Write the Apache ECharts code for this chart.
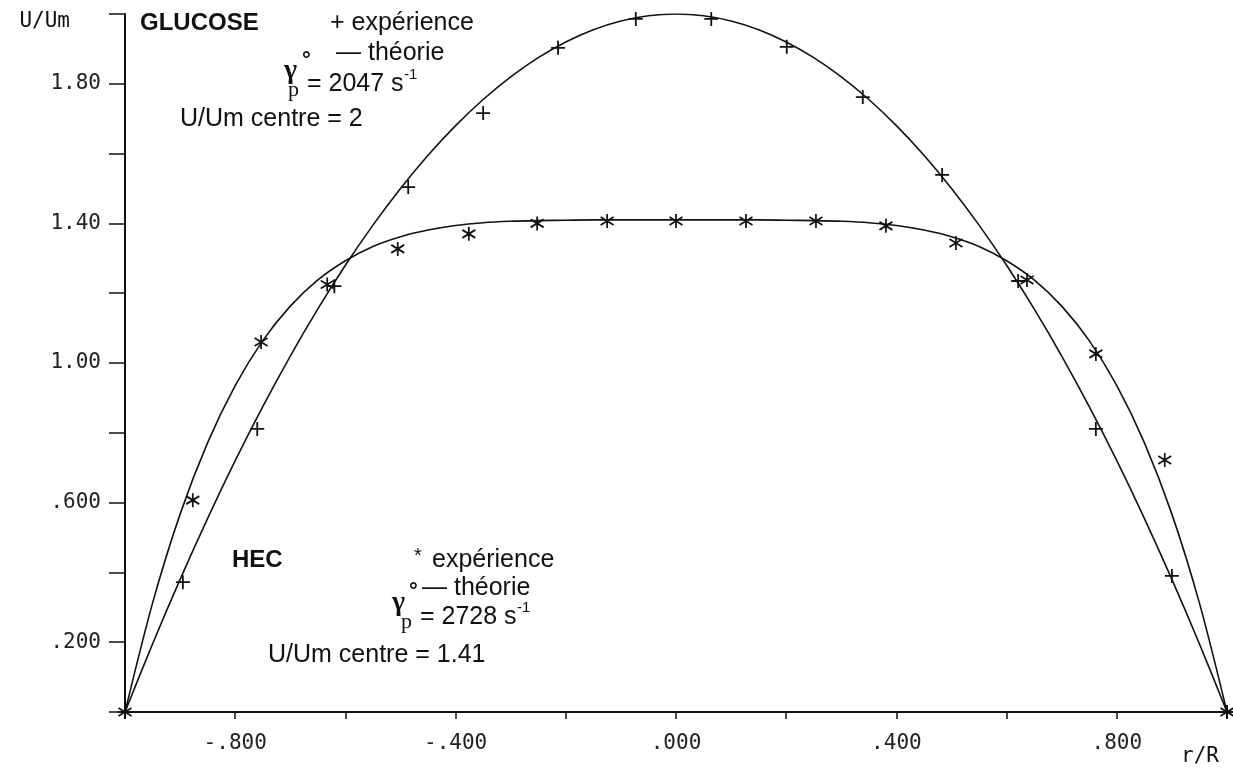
<!DOCTYPE html>
<html>
<head>
<meta charset="utf-8">
<script src="https://cdn.jsdelivr.net/npm/echarts@6/dist/echarts.min.js"></script>
<style>
  html, body { margin: 0; padding: 0; background: #fff; }
  #chart { width: 1233px; height: 772px; }
</style>
</head>
<body>
<div id="chart"></div>
<script>
// experimental points, glucose (+)
const glucoseExpX = [-1, -0.895, -0.76, -0.62, -0.486, -0.35, -0.214, -0.073, 0.064, 0.201, 0.339, 0.483, 0.621, 0.762, 0.900, 1];
const glucoseExpY = [0, 0.372, 0.811, 1.22, 1.504, 1.716, 1.903, 1.986, 1.986, 1.906, 1.762, 1.539, 1.235, 0.811, 0.390, 0];

// experimental points, HEC (*)
const hecExpX = [-1, -0.877, -0.753, -0.633, -0.505, -0.376, -0.252, -0.125, 0.0, 0.127, 0.254, 0.381, 0.508, 0.637, 0.762, 0.887, 1];
const hecExpY = [0, 0.607, 1.06, 1.225, 1.327, 1.370, 1.400, 1.407, 1.407, 1.407, 1.407, 1.393, 1.344, 1.238, 1.026, 0.722, 0];

// theory curves every 0.05 in r/R
const curveX = [-1, -0.95, -0.9, -0.85, -0.8, -0.75, -0.7, -0.65, -0.6, -0.55, -0.5, -0.45, -0.4, -0.35, -0.3, -0.25, -0.2, -0.15, -0.1, -0.05,
  0, 0.05, 0.1, 0.15, 0.2, 0.25, 0.3, 0.35, 0.4, 0.45, 0.5, 0.55, 0.6, 0.65, 0.7, 0.75, 0.8, 0.85, 0.9, 0.95, 1];
const glucoseTheoryY = [0, 0.195, 0.38, 0.555, 0.72, 0.875, 1.02, 1.155, 1.28, 1.395, 1.5, 1.595, 1.68, 1.755, 1.82, 1.875, 1.92, 1.955, 1.98, 1.995,
  2.0, 1.995, 1.98, 1.955, 1.92, 1.875, 1.82, 1.755, 1.68, 1.595, 1.5, 1.395, 1.28, 1.155, 1.02, 0.875, 0.72, 0.555, 0.38, 0.195, 0];
const hecTheoryY = [0, 0.312, 0.567, 0.772, 0.935, 1.064, 1.163, 1.238, 1.293, 1.334, 1.362, 1.381, 1.394, 1.402, 1.406, 1.408, 1.409, 1.41, 1.41, 1.41,
  1.41, 1.41, 1.41, 1.41, 1.409, 1.408, 1.406, 1.402, 1.394, 1.381, 1.362, 1.334, 1.293, 1.238, 1.163, 1.064, 0.935, 0.772, 0.567, 0.312, 0];

// tick labels
const xLabelValues = [-0.8, -0.4, 0, 0.4, 0.8];
const xLabelTexts = ['-.800', '-.400', '.000', '.400', '.800'];
const yLabelValues = [0.2, 0.6, 1.0, 1.4, 1.8];
const yLabelTexts = ['.200', '.600', '1.00', '1.40', '1.80'];

const ink = '#111';
const mono = 'DejaVu Sans Mono';
const sans = 'Liberation Sans';
const serif = 'Liberation Serif';

function pair(xs, ys) {
  return xs.map((x, i) => [x, ys[i]]);
}
function pickLabel(values, texts) {
  return function (v) {
    for (let i = 0; i < values.length; i++) {
      if (Math.abs(values[i] - v) < 1e-6) return texts[i];
    }
    return '';
  };
}
function txt(x, y, text, size, family, weight) {
  return {
    type: 'text', x: x, y: y, silent: true,
    style: {
      text: text, fill: ink,
      font: (weight || 'normal') + ' ' + size + 'px "' + family + '"',
      textAlign: 'left', textVerticalAlign: 'middle'
    }
  };
}

const plusPath = 'path://M0,-7L0,7M-7,0L7,0';
const starPath = 'path://M0,-7L0,7M-6,-4L6,4M-6,4L6,-4';

const chart = echarts.init(document.getElementById('chart'));
const option = {
  backgroundColor: '#fff',
  animation: false,
  grid: { left: 125, right: 6, top: 14, bottom: 60 },
  xAxis: {
    type: 'value', min: -1, max: 1, interval: 0.2,
    name: 'r/R', nameLocation: 'end', nameGap: -46,
    nameTextStyle: { fontFamily: mono, fontSize: 21, color: ink, align: 'left', verticalAlign: 'top', padding: [34, 0, 0, 0] },
    axisLine: { onZero: false, lineStyle: { color: ink, width: 2 } },
    axisTick: { length: 7, lineStyle: { color: ink, width: 1.5 } },
    axisLabel: { margin: 21, fontFamily: mono, fontSize: 21, color: '#222', formatter: pickLabel(xLabelValues, xLabelTexts) },
    splitLine: { show: false }
  },
  yAxis: {
    type: 'value', min: 0, max: 2, interval: 0.2,
    name: 'U/Um', nameLocation: 'end', nameGap: -8,
    nameTextStyle: { fontFamily: mono, fontSize: 21, color: ink, align: 'right', verticalAlign: 'middle', padding: [0, 55, 0, 0] },
    axisLine: { onZero: false, lineStyle: { color: ink, width: 2 } },
    axisTick: { length: 16, lineStyle: { color: ink, width: 1.5 } },
    axisLabel: { margin: 24, fontFamily: mono, fontSize: 21, color: '#222', formatter: pickLabel(yLabelValues, yLabelTexts) },
    splitLine: { show: false }
  },
  series: [
    {
      name: 'glucose théorie', type: 'line', data: pair(curveX, glucoseTheoryY),
      showSymbol: false, smooth: 0.3, lineStyle: { color: ink, width: 1.6 }
    },
    {
      name: 'HEC théorie', type: 'line', data: pair(curveX, hecTheoryY),
      showSymbol: false, smooth: 0.3, lineStyle: { color: ink, width: 1.6 }
    },
    {
      name: 'glucose expérience', type: 'scatter', data: pair(glucoseExpX, glucoseExpY),
      symbol: plusPath, symbolSize: [14, 14],
      itemStyle: { color: ink, borderColor: ink, borderWidth: 1.8, opacity: 1 }
    },
    {
      name: 'HEC expérience', type: 'scatter', data: pair(hecExpX, hecExpY),
      symbol: starPath, symbolSize: [13, 14],
      itemStyle: { color: ink, borderColor: ink, borderWidth: 1.8, opacity: 1 }
    }
  ],
  graphic: [
    // GLUCOSE block
    txt(140, 23, 'GLUCOSE', 24, sans, 'bold'),
    txt(330, 23, '+ expérience', 25, sans),
    txt(336, 53, '— théorie', 25, sans),
    txt(284, 71, 'γ', 28, serif, 'bold'),
    txt(302, 61, '°', 22, sans, 'bold'),
    txt(288, 90, 'p', 22, serif),
    txt(307, 84, '= 2047 s', 25, sans),
    txt(404, 75, '-1', 15, sans),
    txt(180, 119, 'U/Um centre = 2', 25, sans),
    // HEC block
    txt(232, 560, 'HEC', 24, sans, 'bold'),
    txt(414, 556, '*', 20, sans),
    txt(432, 560, 'expérience', 25, sans),
    txt(392, 603, 'γ', 28, serif, 'bold'),
    txt(409, 592, '°', 22, sans, 'bold'),
    txt(422, 588, '— théorie', 25, sans),
    txt(401, 622, 'p', 22, serif),
    txt(420, 617, '= 2728 s', 25, sans),
    txt(517, 608, '-1', 15, sans),
    txt(268, 655, 'U/Um centre = 1.41', 25, sans)
  ]
};
chart.setOption(option);
</script>
</body>
</html>
